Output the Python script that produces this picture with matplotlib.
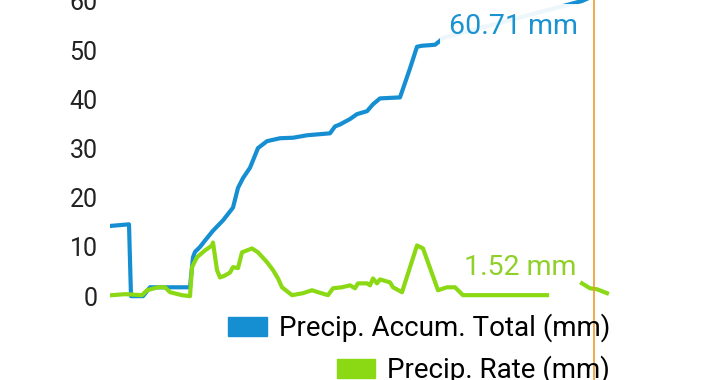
import numpy as np
import matplotlib
matplotlib.use("Agg")
import matplotlib.pyplot as plt
from matplotlib.patches import Patch

plt.rcParams['font.family'] = ['Roboto', 'DejaVu Sans']

# sample positions (arbitrary time index) and values
accum_t = [2, 19, 21, 33, 40, 80, 83, 85, 90, 95, 103, 113, 123, 128, 133, 140, 148, 157,
           170, 183, 197, 220, 225, 230, 240, 247, 257, 263, 270, 290, 300, 307, 312, 325,
           330, 333, 472, 480]
accum_total = [14.3, 14.6, 0, 0, 1.8, 1.8, 7.9, 9.0, 10.0, 11.3, 13.3, 15.4, 18.0, 22.0, 24.0,
               26.1, 30.1, 31.5, 32.1, 32.2, 32.7, 33.1, 34.5, 34.9, 36.0, 37.0, 37.6, 39.0,
               40.2, 40.4, 46.3, 50.7, 50.9, 51.1, 51.9, 52.5, 60.0, 60.71]

rate_t = [2, 15, 32, 37, 48, 55, 60, 72, 80, 82, 87, 95, 102, 103, 107, 110, 115, 120, 123,
          128, 132, 142, 148, 157, 163, 168, 172, 182, 193, 202, 208, 218, 223, 232, 240,
          245, 248, 257, 260, 263, 267, 270, 280, 283, 292, 307, 313, 328, 337, 345, 350,
          353, 437, 455, 472, 480, 487, 497]
rate = [0.2, 0.4, 0.2, 1.2, 1.8, 1.8, 0.8, 0.2, 0.0, 5.9, 7.9, 9.3, 10.3, 10.9, 5.3, 3.8, 4.2,
        4.8, 5.9, 5.7, 8.9, 9.7, 8.9, 6.9, 5.3, 3.6, 1.8, 0.2, 0.6, 1.2, 0.8, 0.2, 1.6, 1.8,
        2.2, 1.6, 2.6, 2.6, 2.2, 3.6, 2.6, 3.4, 2.8, 1.8, 0.8, 10.3, 9.7, 1.2, 1.8, 1.8, 0.8,
        0.2, 0.2, np.nan, 2.6, 1.6, 1.4, 0.6]

now_t = 484
accum_label = "60.71 mm"
rate_label = "1.52 mm"
yticks = [0, 10, 20, 30, 40, 50, 60]
legend_labels = ['Precip. Accum. Total (mm)', 'Precip. Rate (mm)']

blue = '#158fd2'
green = '#8bd914'

fig = plt.figure(figsize=(7.2, 3.8), dpi=100)
ax = fig.add_axes([110 / 720, 1 - 305 / 380, 500 / 720, 305 / 380])

ax.plot(accum_t, accum_total, color=blue, lw=3, solid_joinstyle='round', zorder=3)
ax.plot(rate_t, rate, color=green, lw=3, solid_joinstyle='round', zorder=3)

ax.axvline(now_t, ymin=-0.3, ymax=1, color='#f29a2e', lw=1.2, clip_on=False, zorder=5)

ax.text(403, 54.9, accum_label, color='#1a93d0', fontsize=20.5, ha='center', va='center',
        zorder=4, bbox=dict(boxstyle='square,pad=0.3', fc='white', ec='none', alpha=0.93))
ax.text(410, 5.9, rate_label, color='#8fd12a', fontsize=20.5, ha='center', va='center',
        zorder=4)

ax.set_xlim(0, 500)
ax.set_ylim(-1.8, 60.2)
ax.set_yticks(yticks)
ax.set_xticks([])
ax.tick_params(axis='y', length=0, pad=9, labelsize=18, labelcolor='#222222')
for s in ax.spines.values():
    s.set_visible(False)

# one legend per row so each row is right-aligned
for color, label, yc in zip([blue, green], legend_labels, [328, 370]):
    fig.legend([Patch(color=color)], [label], loc='center right',
               bbox_to_anchor=(610 / 720, 1 - yc / 380),
               frameon=False, fontsize=20, borderpad=0, borderaxespad=0,
               handlelength=1.4, handleheight=0.7, handletextpad=0.42)

fig.savefig('out.png', dpi=100)
